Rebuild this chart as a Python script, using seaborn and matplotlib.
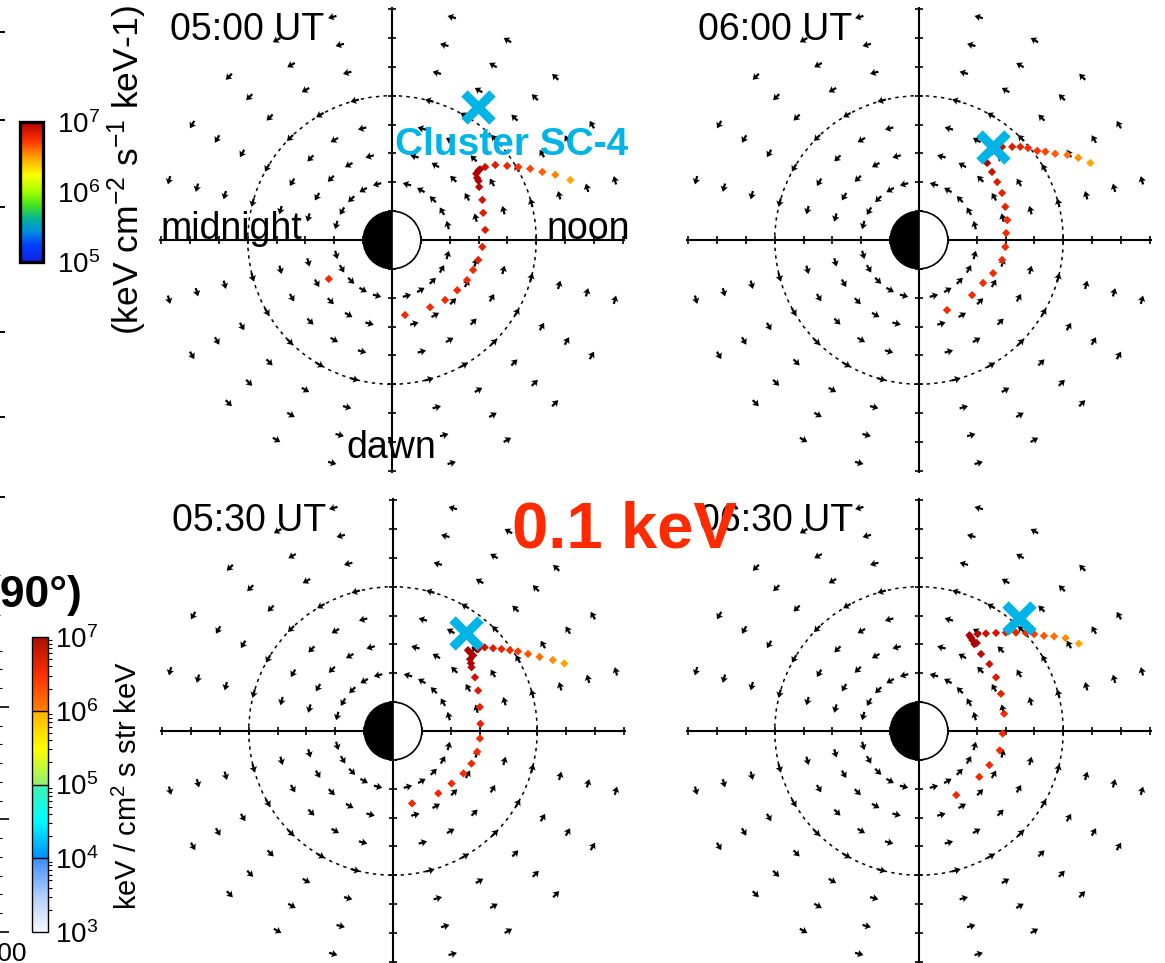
import numpy as np
import pandas as pd
import matplotlib
matplotlib.use("Agg")
import matplotlib.pyplot as plt
import matplotlib.ticker as mticker
import seaborn as sns
from matplotlib.colors import LinearSegmentedColormap, LogNorm
from matplotlib.cm import ScalarMappable
from matplotlib.patches import Wedge, Circle

plt.rcParams["font.family"] = ["Liberation Sans", "DejaVu Sans"]
plt.rcParams["mathtext.fontset"] = "custom"
plt.rcParams["mathtext.rm"] = "Liberation Sans"
plt.rcParams["mathtext.it"] = "Liberation Sans:italic"
plt.rcParams["mathtext.bf"] = "Liberation Sans:bold"

# ---------------- data ----------------
panel_times = ["05:00 UT", "06:00 UT", "05:30 UT", "06:30 UT"]

# sampling grid of the drift-velocity glyphs (radius, local-time angle)
ring_radii = [2, 3, 4, 5, 6, 7, 8]
ring_angles_deg = [15, 30, 45, 60, 75, 105, 120, 135, 150, 165,
                   195, 210, 225, 240, 255, 285, 300, 315, 330, 345]
dashed_radii = [5]
axis_ticks = [-8, -7, -6, -5, -4, -3, -2, -1, 1, 2, 3, 4, 5, 6, 7, 8]

# 0.1 keV ion tracks (x toward noon, y toward dusk) and their flux
track_x_0500 = [6.18, 5.66, 5.21, 4.79, 4.38, 3.99, 3.58, 3.23, 2.99, 2.95,
                3.02, 3.13, 3.16, 3.23, 3.13, 2.99, 2.81, 2.60, 2.26, 1.84,
                1.32, 0.45, -2.19, 2.92, 3.05, 3.00]
track_y_0500 = [2.08, 2.26, 2.36, 2.47, 2.53, 2.57, 2.60, 2.53, 2.40, 2.15,
                1.84, 1.39, 0.94, 0.35, -0.24, -0.69, -1.04, -1.39, -1.74, -2.08,
                -2.33, -2.60, -1.35, 2.30, 2.45, 2.05]
track_f_0500 = [3.0e6, 3.6e6, 4.3e6, 5.0e6, 5.5e6, 6.2e6, 7.0e6, 8.0e6, 1.0e7, 1.0e7,
                9.0e6, 7.5e6, 7.0e6, 7.0e6, 6.5e6, 6.5e6, 6.0e6, 6.0e6, 6.0e6, 6.0e6,
                6.0e6, 6.0e6, 6.0e6, 1.0e7, 1.0e7, 1.0e7]

track_x_0600 = [5.94, 5.52, 5.14, 4.72, 4.38, 4.10, 3.78, 3.51, 3.23, 2.88,
                2.53, 2.36, 2.53, 2.71, 2.88, 2.99, 3.06, 3.02, 2.99, 2.88,
                2.57, 2.22, 1.84, 0.97]
track_y_0600 = [2.67, 2.85, 2.95, 2.99, 3.06, 3.09, 3.19, 3.23, 3.23, 3.23,
                3.06, 2.67, 2.36, 2.01, 1.63, 1.15, 0.69, 0.24, -0.24, -0.69,
                -1.15, -1.49, -1.91, -2.43]
track_f_0600 = [3.0e6, 3.4e6, 3.9e6, 4.4e6, 5.0e6, 5.5e6, 6.0e6, 6.5e6, 7.0e6, 8.0e6,
                1.0e7, 1.0e7, 8.0e6, 7.0e6, 6.5e6, 6.5e6, 6.0e6, 6.0e6, 6.0e6, 6.0e6,
                6.0e6, 6.0e6, 6.0e6, 6.0e6]

track_x_0530 = [5.94, 5.54, 5.08, 4.68, 4.33, 4.05, 3.76, 3.47, 3.18, 2.95,
                2.67, 2.67, 2.72, 2.84, 2.95, 3.01, 3.03, 3.01, 2.92, 2.72,
                2.44, 2.03, 1.57, 0.66, 2.60, 2.78, 2.70]
track_y_0530 = [2.34, 2.46, 2.57, 2.67, 2.76, 2.80, 2.84, 2.87, 2.90, 2.84,
                2.72, 2.49, 2.21, 1.86, 1.40, 0.83, 0.25, -0.26, -0.72, -1.13,
                -1.47, -1.82, -2.16, -2.51, 2.80, 2.62, 2.35]
track_f_0530 = [3.0e6, 3.5e6, 4.0e6, 4.6e6, 5.2e6, 5.8e6, 6.3e6, 7.0e6, 8.0e6, 9.0e6,
                1.0e7, 1.0e7, 9.0e6, 8.0e6, 7.0e6, 6.5e6, 6.5e6, 6.0e6, 6.0e6, 6.0e6,
                6.0e6, 6.0e6, 6.0e6, 6.0e6, 1.0e7, 1.0e7, 1.0e7]

track_x_0630 = [5.54, 5.08, 4.68, 4.33, 3.99, 3.70, 3.36, 3.01, 2.67, 2.32,
                2.03, 1.80, 1.92, 2.15, 2.44, 2.67, 2.84, 2.95, 2.90, 2.80,
                2.44, 2.09, 1.29, 1.85, 1.75, 2.00]
track_y_0630 = [3.03, 3.22, 3.28, 3.30, 3.36, 3.40, 3.41, 3.41, 3.40, 3.38,
                3.36, 3.24, 3.01, 2.67, 2.32, 1.86, 1.29, 0.60, -0.09, -0.67,
                -1.18, -1.59, -2.22, 3.15, 3.32, 3.05]
track_f_0630 = [3.0e6, 3.5e6, 4.0e6, 4.6e6, 5.2e6, 5.8e6, 6.3e6, 7.0e6, 7.5e6, 8.0e6,
                9.0e6, 1.0e7, 1.0e7, 9.0e6, 8.0e6, 7.0e6, 6.5e6, 6.0e6, 6.0e6, 6.0e6,
                6.0e6, 6.0e6, 6.0e6, 1.0e7, 1.0e7, 1.0e7]

# Cluster SC-4 position at each time
cluster_x = [2.99, 2.57, 2.53, 3.47]
cluster_y = [4.62, 3.23, 3.41, 3.93]

cbar_top_ticks = [1e5, 1e6, 1e7]
cbar_bot_ticks = [1e3, 1e4, 1e5, 1e6, 1e7]
edge_ticks_upper = [32, 120, 207, 332, 417, 497]

# ---------------- colour maps ----------------
cmap_top = LinearSegmentedColormap.from_list("flux_top", [
    (0.00, "#1020e0"), (0.12, "#0040ff"), (0.22, "#0090e0"), (0.30, "#00b0a0"),
    (0.40, "#40e020"), (0.50, "#a0ff00"), (0.62, "#ffff00"), (0.75, "#ffa000"),
    (0.87, "#ff3000"), (1.00, "#b00000")])
cmap_bot = LinearSegmentedColormap.from_list("flux_bot", [
    (0.000, "#f4f8ff"), (0.120, "#b0d0ff"), (0.249, "#3c8cff"), (0.251, "#0090ff"),
    (0.380, "#00ffff"), (0.499, "#40f0b0"), (0.501, "#90f070"), (0.620, "#ffff00"),
    (0.749, "#ffb000"), (0.751, "#ff8000"), (0.870, "#ff3000"), (1.000, "#a81000")])
flux_norm = LogNorm(1e5, 1e7)

# ---------------- figure ----------------
W, H = 1165, 963
fig = plt.figure(figsize=(W / 100, H / 100), dpi=100)
fig.patch.set_facecolor("white")


def px_axes(left, top, width, height):
    return fig.add_axes([left / W, 1 - (top + height) / H, width / W, height / H])


def fig_text(x, y, s, **kw):
    return fig.text(x / W, 1 - y / H, s, **kw)


S = 28.85      # pixels per unit
HALF = 8.4
centres = [(392, 240), (919, 240), (393, 731), (919, 731)]
tracks = [(track_x_0500, track_y_0500, track_f_0500),
          (track_x_0600, track_y_0600, track_f_0600),
          (track_x_0530, track_y_0530, track_f_0530),
          (track_x_0630, track_y_0630, track_f_0630)]

th = np.deg2rad(ring_angles_deg)
RR, TT = np.meshgrid(ring_radii, th)
gx, gy = (RR * np.cos(TT)).ravel(), (RR * np.sin(TT)).ravel()
glyph = 0.30
gu, gv = (-np.sin(TT) * glyph).ravel(), (np.cos(TT) * glyph).ravel()

for i, (cx, cy) in enumerate(centres):
    side = 2 * HALF * S
    ax = px_axes(cx - HALF * S, cy - HALF * S, side, side)
    ax.set_xlim(-HALF, HALF)
    ax.set_ylim(-HALF, HALF)
    ax.patch.set_visible(False)
    for s in ["top", "right"]:
        ax.spines[s].set_visible(False)
    for s in ["left", "bottom"]:
        ax.spines[s].set_position(("data", 0))
        ax.spines[s].set_bounds(-8.05, 8.05)
        ax.spines[s].set_linewidth(1.5)
        ax.spines[s].set_color("black")
    ax.set_xticks(axis_ticks)
    ax.set_yticks(axis_ticks)
    ax.tick_params(direction="inout", length=6, width=1.2, color="black",
                   bottom=True, left=True, labelbottom=False, labelleft=False)

    for r in dashed_radii:
        ax.add_patch(Circle((0, 0), r, fill=False, ec="black", lw=1.1,
                            ls=(0, (2.2, 2.8)), zorder=2))

    ax.quiver(gx, gy, gu, gv, angles="xy", scale_units="xy", scale=1,
              pivot="middle", width=0.0046, headwidth=3.4, headlength=2.6,
              headaxislength=2.2, color="black", zorder=3)

    ax.add_patch(Wedge((0, 0), 1, 90, 270, fc="black", ec="black", lw=1.0, zorder=4))
    ax.add_patch(Wedge((0, 0), 1, -90, 90, fc="white", ec="black", lw=1.2, zorder=4))

    tx, ty, tf = tracks[i]
    df = pd.DataFrame({"x": tx, "y": ty, "flux": tf})
    sns.scatterplot(data=df, x="x", y="y", hue="flux", hue_norm=flux_norm,
                    palette=cmap_top, marker="D", s=18, linewidth=0,
                    legend=False, ax=ax, zorder=5)
    ax.set_xlabel("")
    ax.set_ylabel("")
    ax.set_xlim(-HALF, HALF)
    ax.set_ylim(-HALF, HALF)

    ax.plot(cluster_x[i], cluster_y[i], marker="x", ms=20, mew=6.5,
            color="#00b4e6", ls="none", zorder=6)

    if i == 0:
        ax.text(0.12, 2.95, "Cluster SC-4", color="#00b4e6", fontsize=28,
                fontweight="bold", ha="left", va="baseline", zorder=7)
        ax.text(-8.04, 0.02, "midnight", fontsize=27, ha="left", va="baseline",
                zorder=7, clip_on=False)
        ax.text(5.36, 0.02, "noon", fontsize=27, ha="left", va="baseline",
                zorder=7, clip_on=False)
        ax.text(-1.57, -7.57, "dawn", fontsize=27, ha="left", va="baseline", zorder=7)

# time stamps
time_pos = [(170, 40), (698, 40), (172, 531), (699, 531)]
for (x, y), t in zip(time_pos, panel_times):
    fig_text(x, y, t, fontsize=27, ha="left", va="baseline", zorder=5)

fig_text(512, 548, "0.1 keV", fontsize=47, fontweight="bold", color="#ff2a00",
         ha="left", va="baseline", zorder=10)

# ---------------- colour bars ----------------
cax1 = px_axes(20, 122, 23, 140)
cb1 = fig.colorbar(ScalarMappable(norm=flux_norm, cmap=cmap_top), cax=cax1)
cb1.set_ticks(cbar_top_ticks)
cb1.minorticks_off()
cb1.ax.tick_params(which="both", length=0, pad=10, labelsize=20)
cb1.outline.set_linewidth(2.4)
fig_text(127, 170, "(keV cm$^{-2}$ s$^{-1}$ keV-1)", fontsize=25.5, rotation=90,
         ha="center", va="center")

cax2 = px_axes(32, 637, 16, 295)
cb2 = fig.colorbar(ScalarMappable(norm=LogNorm(1e3, 1e7), cmap=cmap_bot), cax=cax2)
cb2.set_ticks(cbar_bot_ticks)
cb2.minorlocator = mticker.LogLocator(base=10, subs=np.arange(2, 10))
cb2.ax.tick_params(which="major", length=0, pad=5, labelsize=20)
cb2.ax.tick_params(which="minor", length=3, width=0.8, direction="out", right=True)
for v in cbar_bot_ticks[1:-1]:
    cb2.ax.axhline(v, color="black", lw=1.0)
cb2.outline.set_linewidth(1.0)
fig_text(128, 786, "keV / cm$^2$ s str keV", fontsize=21, rotation=90,
         ha="center", va="center")

fig_text(83, 607, "(90°)", fontsize=32, fontweight="bold", ha="right",
         va="baseline")

# neighbouring panels along the left edge
nb1 = px_axes(-80, 0, 79, 510)
nb1.set_ylim(510, 0)
nb1.patch.set_visible(False)
for s in nb1.spines.values():
    s.set_visible(False)
nb1.set_xticks([])
nb1.yaxis.tick_right()
nb1.set_yticks(edge_ticks_upper)
nb1.set_yticklabels([])
nb1.tick_params(axis="y", direction="out", length=4.5, width=1.4)

nb2 = px_axes(-80, 637, 79, 295)
nb2.set_ylim(0, 2.62)
nb2.patch.set_visible(False)
for s in nb2.spines.values():
    s.set_visible(False)
nb2.set_xticks([])
nb2.yaxis.tick_right()
nb2.yaxis.set_major_locator(mticker.MultipleLocator(1))
nb2.yaxis.set_minor_locator(mticker.MultipleLocator(1 / 6))
nb2.yaxis.set_ticklabels([])
nb2.tick_params(axis="y", which="major", direction="out", length=7.5, width=1.2)
nb2.tick_params(axis="y", which="minor", direction="out", length=2.5, width=0.8)
fig_text(26, 961, "1000", fontsize=19, ha="right", va="baseline")

fig.savefig("out.png", dpi=100)
